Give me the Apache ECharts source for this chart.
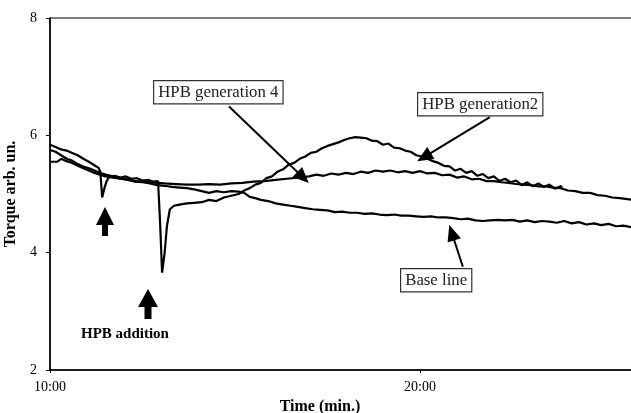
<!DOCTYPE html>
<html>
<head>
<meta charset="utf-8">
<script src="https://cdn.jsdelivr.net/npm/echarts@6/dist/echarts.min.js"></script>
<style>html,body{margin:0;padding:0;background:#fff;}#chart{width:631px;height:413px;}</style>
</head>
<body>
<div id="chart"></div>
<script>
// Time in minutes, torque in arb. units
var xTickLabels = { 10: '10:00', 20: '20:00' };
var yTicks = [2, 4, 6, 8];

var gen2Data = [[10.00,5.84],[10.15,5.80],[10.30,5.76],[10.45,5.74],[10.60,5.70],[10.75,5.66],[10.90,5.60],[11.05,5.55],[11.20,5.49],[11.32,5.44],[11.36,5.38],[11.41,4.94],[11.47,5.10],[11.53,5.22],[11.60,5.29],[11.75,5.31],[11.90,5.28],[12.05,5.30],[12.20,5.26],[12.35,5.27],[12.50,5.23],[12.65,5.24],[12.80,5.21],[12.92,5.22],[12.97,4.60],[13.03,3.66],[13.10,4.00],[13.16,4.45],[13.24,4.74],[13.35,4.80],[13.50,4.82],[13.70,4.84],[13.90,4.85],[14.10,4.86],[14.30,4.90],[14.50,4.88],[14.70,4.94],[14.90,4.97],[15.10,5.00],[15.25,5.06],[15.40,5.10],[15.55,5.16],[15.70,5.19],[15.85,5.27],[16.00,5.30],[16.15,5.38],[16.30,5.42],[16.45,5.50],[16.60,5.53],[16.75,5.60],[16.90,5.64],[17.05,5.70],[17.20,5.72],[17.35,5.78],[17.50,5.82],[17.65,5.85],[17.80,5.88],[17.95,5.92],[18.10,5.95],[18.25,5.97],[18.40,5.96],[18.55,5.95],[18.70,5.91],[18.85,5.90],[19.00,5.84],[19.15,5.86],[19.30,5.79],[19.45,5.78],[19.60,5.74],[19.75,5.72],[19.90,5.66],[20.05,5.64],[20.20,5.60],[20.35,5.56],[20.50,5.53],[20.65,5.48],[20.80,5.47],[20.95,5.40],[21.10,5.43],[21.25,5.36],[21.40,5.39],[21.55,5.31],[21.70,5.34],[21.85,5.27],[22.00,5.30],[22.15,5.22],[22.30,5.26],[22.45,5.20],[22.60,5.23],[22.75,5.15],[22.90,5.20],[23.05,5.13],[23.20,5.18],[23.35,5.12],[23.50,5.16],[23.65,5.09],[23.80,5.13],[23.85,5.12]];

var gen4Data = [[10.00,5.55],[10.20,5.55],[10.30,5.60],[10.45,5.56],[10.60,5.53],[10.75,5.48],[10.90,5.44],[11.05,5.40],[11.20,5.36],[11.35,5.33],[11.50,5.30],[11.70,5.28],[11.90,5.26],[12.10,5.25],[12.30,5.22],[12.50,5.21],[12.70,5.20],[12.90,5.19],[13.10,5.18],[13.40,5.17],[13.70,5.16],[14.00,5.16],[14.30,5.17],[14.60,5.16],[14.90,5.18],[15.20,5.19],[15.50,5.21],[15.80,5.22],[16.10,5.24],[16.40,5.26],[16.70,5.28],[17.00,5.30],[17.20,5.33],[17.40,5.31],[17.60,5.35],[17.80,5.33],[18.00,5.36],[18.20,5.34],[18.40,5.38],[18.60,5.36],[18.80,5.40],[19.00,5.38],[19.20,5.40],[19.40,5.37],[19.60,5.39],[19.80,5.36],[20.00,5.39],[20.20,5.35],[20.40,5.36],[20.60,5.32],[20.80,5.33],[21.00,5.28],[21.20,5.30],[21.40,5.25],[21.60,5.26],[21.80,5.22],[22.00,5.22],[22.20,5.20],[22.40,5.19],[22.60,5.17],[22.80,5.16],[23.00,5.15],[23.20,5.13],[23.40,5.13],[23.60,5.11],[23.80,5.10],[24.00,5.06],[24.20,5.05],[24.40,5.02],[24.60,5.02],[24.80,4.98],[25.00,4.97],[25.20,4.94],[25.40,4.93],[25.73,4.90]];

var baseData = [[10.00,5.75],[10.15,5.72],[10.30,5.66],[10.45,5.60],[10.60,5.57],[10.75,5.51],[10.90,5.47],[11.05,5.44],[11.20,5.40],[11.35,5.36],[11.50,5.33],[11.70,5.30],[11.90,5.26],[12.10,5.24],[12.30,5.21],[12.50,5.20],[12.70,5.18],[12.90,5.15],[13.10,5.14],[13.30,5.12],[13.50,5.11],[13.70,5.10],[13.90,5.08],[14.10,5.05],[14.30,5.02],[14.50,5.05],[14.70,5.03],[14.90,5.05],[15.10,5.04],[15.25,5.02],[15.40,4.95],[15.55,4.93],[15.70,4.90],[15.90,4.88],[16.10,4.84],[16.30,4.82],[16.50,4.80],[16.70,4.78],[16.90,4.76],[17.10,4.74],[17.30,4.73],[17.50,4.72],[17.70,4.69],[17.90,4.70],[18.10,4.68],[18.30,4.68],[18.50,4.66],[18.70,4.67],[18.90,4.65],[19.10,4.64],[19.30,4.65],[19.50,4.63],[19.70,4.63],[19.90,4.62],[20.10,4.61],[20.30,4.62],[20.50,4.60],[20.70,4.60],[20.90,4.59],[21.10,4.57],[21.30,4.58],[21.50,4.55],[21.70,4.54],[21.90,4.55],[22.10,4.56],[22.30,4.55],[22.50,4.56],[22.70,4.53],[22.90,4.55],[23.10,4.52],[23.30,4.54],[23.50,4.53],[23.70,4.51],[23.90,4.54],[24.10,4.50],[24.30,4.52],[24.50,4.48],[24.70,4.50],[24.90,4.47],[25.10,4.49],[25.30,4.45],[25.50,4.46],[25.73,4.43]];

// Annotation arrows (data coordinates: [start], [tip])
var gen4Arrow = [[14.84, 6.49], [16.84, 5.28]];
var gen2Arrow = [[21.89, 6.31], [20.11, 5.63]];
var baseArrow = [[21.16, 3.76], [20.86, 4.34]];

var FONT = '"Liberation Serif", "DejaVu Serif", serif';
var chart = echarts.init(document.getElementById('chart'));

function lineSeries(name, data) {
  return {
    name: name, type: 'line', data: data, showSymbol: false, symbol: 'none',
    lineStyle: { color: '#000', width: 2.2 }, animation: false, z: 3
  };
}
function arrowLine(pts) {
  return [{ coord: pts[0] }, { coord: pts[1] }];
}

var series = [
  lineSeries('Base line', baseData),
  lineSeries('HPB generation 4', gen4Data),
  lineSeries('HPB generation2', gen2Data)
];
series[0].markLine = {
  silent: true, animation: false,
  symbol: ['none', 'triangle'],
  symbolSize: [14, 16],
  lineStyle: { color: '#000', width: 2, type: 'solid' },
  label: { show: false },
  data: [arrowLine(gen4Arrow), arrowLine(gen2Arrow), arrowLine(baseArrow)]
};

function box(text, x, y) {
  return {
    type: 'text', left: x, top: y, z: 10,
    style: {
      text: text, font: '16.8px ' + FONT, fill: '#222',
      backgroundColor: '#fff', borderColor: '#333', borderWidth: 1.2,
      padding: [3, 4, 2, 4]
    }
  };
}
function upArrow(cx, tip, base, bottom, hw, sw) {
  return {
    type: 'polygon', z: 10,
    shape: { points: [[cx, tip], [cx + hw, base], [cx + sw, base], [cx + sw, bottom], [cx - sw, bottom], [cx - sw, base], [cx - hw, base]] },
    style: { fill: '#000' }
  };
}

chart.setOption({
  backgroundColor: '#fff',
  animation: false,
  grid: { left: 50, top: 18, width: 586, height: 352, show: true, borderColor: '#000', borderWidth: 1.2, backgroundColor: 'transparent', outerBoundsMode: 'none', containLabel: false },
  xAxis: {
    type: 'value', min: 10, max: 25.84, interval: 10,
    name: 'Time (min.)', nameLocation: 'middle', nameGap: 28,
    nameTextStyle: { fontFamily: FONT, fontWeight: 'bold', fontSize: 16, color: '#000', padding: [0, 46, 0, 0] },
    axisLine: { lineStyle: { color: '#000', width: 1.5 } },
    axisTick: { show: true, length: 3, lineStyle: { color: '#000' } },
    axisLabel: {
      fontFamily: FONT, fontSize: 14, color: '#000', margin: 10, showMaxLabel: false,
      formatter: function (v) { return xTickLabels[v] || ''; }
    },
    splitLine: { show: false }
  },
  yAxis: {
    type: 'value', min: yTicks[0], max: yTicks[yTicks.length - 1], interval: 2,
    name: 'Torque arb. un.', nameLocation: 'middle', nameGap: 21,
    nameTextStyle: { fontFamily: FONT, fontWeight: 'bold', fontSize: 16, color: '#000' },
    axisLine: { show: true, lineStyle: { color: '#000', width: 1.5 } },
    axisTick: { show: true, length: 4, lineStyle: { color: '#000' } },
    axisLabel: { fontFamily: FONT, fontSize: 14, color: '#000', margin: 13 },
    splitLine: { show: false }
  },
  series: series,
  graphic: [
    box('HPB generation 4', 153, 80),
    box('HPB generation2', 417, 92),
    box('Base line', 400, 268),
    upArrow(105, 207, 225, 236, 9, 3),
    upArrow(148, 289, 307, 319, 10, 3.5),
    { type: 'text', left: 81, top: 327, z: 10, style: { text: 'HPB addition', font: 'bold 15px ' + FONT, fill: '#000' } }
  ]
});
</script>
</body>
</html>
